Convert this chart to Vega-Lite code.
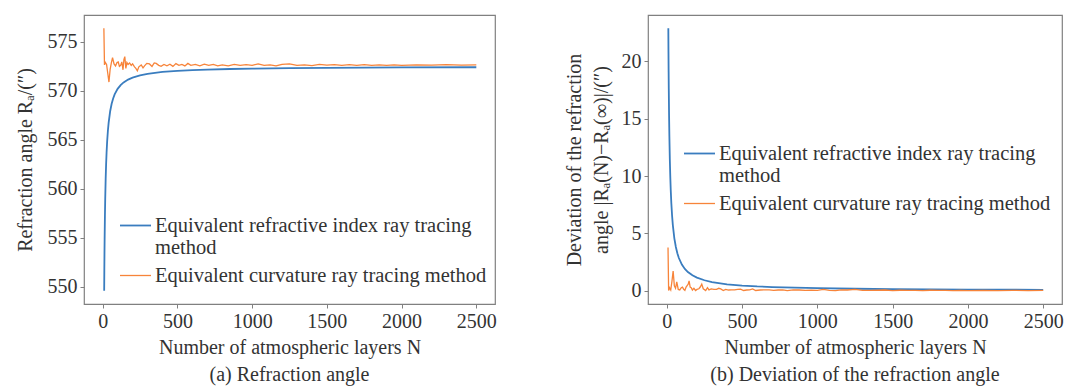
{
  "$schema": "https://vega.github.io/schema/vega-lite/v6.json",
  "background": "white",
  "padding": {"left": 14, "top": 14, "right": 5, "bottom": 0},
  "config": {
    "font": "Liberation Serif",
    "view": {"stroke": "#808080", "strokeWidth": 1.2},
    "axis": {"grid": false, "domain": false, "tickColor": "#808080", "tickSize": 4, "labelFont": "Liberation Serif", "labelFontSize": 20, "labelColor": "#333333", "titleFont": "Liberation Serif", "titleFontSize": 20, "titleFontWeight": "normal", "titleColor": "#333333", "labelPadding": 3, "format": "d"},
    "legend": {"labelFont": "Liberation Serif", "labelFontSize": 20.5, "labelColor": "#333333", "labelLimit": 600, "symbolType": "stroke", "symbolSize": 961, "symbolStrokeWidth": 1.6, "labelOffset": 3, "rowPadding": -2},
    "title": {"font": "Liberation Serif", "fontSize": 20, "fontWeight": "normal", "color": "#333333", "orient": "bottom", "anchor": "middle", "frame": "group"}
  },
  "datasets": {
    "d": [
      {"method": "Equivalent refractive index ray tracing method", "N": 10, "R": 549.60, "dev": 22.90},
      {"method": "Equivalent refractive index ray tracing method", "N": 11, "R": 551.68, "dev": 20.82},
      {"method": "Equivalent refractive index ray tracing method", "N": 12, "R": 553.42, "dev": 19.08},
      {"method": "Equivalent refractive index ray tracing method", "N": 13, "R": 554.88, "dev": 17.62},
      {"method": "Equivalent refractive index ray tracing method", "N": 15, "R": 557.23, "dev": 15.27},
      {"method": "Equivalent refractive index ray tracing method", "N": 17, "R": 559.03, "dev": 13.47},
      {"method": "Equivalent refractive index ray tracing method", "N": 20, "R": 561.05, "dev": 11.45},
      {"method": "Equivalent refractive index ray tracing method", "N": 23, "R": 562.54, "dev": 9.96},
      {"method": "Equivalent refractive index ray tracing method", "N": 26, "R": 563.69, "dev": 8.81},
      {"method": "Equivalent refractive index ray tracing method", "N": 30, "R": 564.87, "dev": 7.63},
      {"method": "Equivalent refractive index ray tracing method", "N": 35, "R": 565.96, "dev": 6.54},
      {"method": "Equivalent refractive index ray tracing method", "N": 40, "R": 566.77, "dev": 5.73},
      {"method": "Equivalent refractive index ray tracing method", "N": 50, "R": 567.92, "dev": 4.58},
      {"method": "Equivalent refractive index ray tracing method", "N": 60, "R": 568.68, "dev": 3.82},
      {"method": "Equivalent refractive index ray tracing method", "N": 70, "R": 569.23, "dev": 3.27},
      {"method": "Equivalent refractive index ray tracing method", "N": 80, "R": 569.64, "dev": 2.86},
      {"method": "Equivalent refractive index ray tracing method", "N": 100, "R": 570.21, "dev": 2.29},
      {"method": "Equivalent refractive index ray tracing method", "N": 120, "R": 570.59, "dev": 1.91},
      {"method": "Equivalent refractive index ray tracing method", "N": 140, "R": 570.86, "dev": 1.64},
      {"method": "Equivalent refractive index ray tracing method", "N": 170, "R": 571.15, "dev": 1.35},
      {"method": "Equivalent refractive index ray tracing method", "N": 200, "R": 571.35, "dev": 1.15},
      {"method": "Equivalent refractive index ray tracing method", "N": 250, "R": 571.58, "dev": 0.92},
      {"method": "Equivalent refractive index ray tracing method", "N": 300, "R": 571.74, "dev": 0.76},
      {"method": "Equivalent refractive index ray tracing method", "N": 400, "R": 571.93, "dev": 0.57},
      {"method": "Equivalent refractive index ray tracing method", "N": 500, "R": 572.04, "dev": 0.46},
      {"method": "Equivalent refractive index ray tracing method", "N": 600, "R": 572.12, "dev": 0.38},
      {"method": "Equivalent refractive index ray tracing method", "N": 700, "R": 572.17, "dev": 0.33},
      {"method": "Equivalent refractive index ray tracing method", "N": 850, "R": 572.23, "dev": 0.27},
      {"method": "Equivalent refractive index ray tracing method", "N": 1000, "R": 572.27, "dev": 0.23},
      {"method": "Equivalent refractive index ray tracing method", "N": 1250, "R": 572.32, "dev": 0.18},
      {"method": "Equivalent refractive index ray tracing method", "N": 1500, "R": 572.35, "dev": 0.15},
      {"method": "Equivalent refractive index ray tracing method", "N": 2000, "R": 572.39, "dev": 0.11},
      {"method": "Equivalent refractive index ray tracing method", "N": 2500, "R": 572.41, "dev": 0.09},
      {"method": "Equivalent curvature ray tracing method", "N": 8, "R": 576.40, "dev": 3.77},
      {"method": "Equivalent curvature ray tracing method", "N": 12, "R": 572.65, "dev": 0.02},
      {"method": "Equivalent curvature ray tracing method", "N": 18, "R": 572.90, "dev": 0.27},
      {"method": "Equivalent curvature ray tracing method", "N": 26, "R": 572.70, "dev": 0.07},
      {"method": "Equivalent curvature ray tracing method", "N": 34, "R": 571.80, "dev": 0.83},
      {"method": "Equivalent curvature ray tracing method", "N": 42, "R": 570.90, "dev": 1.73},
      {"method": "Equivalent curvature ray tracing method", "N": 50, "R": 572.20, "dev": 0.43},
      {"method": "Equivalent curvature ray tracing method", "N": 58, "R": 572.85, "dev": 0.22},
      {"method": "Equivalent curvature ray tracing method", "N": 66, "R": 573.40, "dev": 0.77},
      {"method": "Equivalent curvature ray tracing method", "N": 76, "R": 572.75, "dev": 0.12},
      {"method": "Equivalent curvature ray tracing method", "N": 86, "R": 572.55, "dev": 0.08},
      {"method": "Equivalent curvature ray tracing method", "N": 96, "R": 572.90, "dev": 0.27},
      {"method": "Equivalent curvature ray tracing method", "N": 104, "R": 572.95, "dev": 0.32},
      {"method": "Equivalent curvature ray tracing method", "N": 112, "R": 572.50, "dev": 0.13},
      {"method": "Equivalent curvature ray tracing method", "N": 120, "R": 572.60, "dev": 0.03},
      {"method": "Equivalent curvature ray tracing method", "N": 128, "R": 572.95, "dev": 0.32},
      {"method": "Equivalent curvature ray tracing method", "N": 136, "R": 572.15, "dev": 0.48},
      {"method": "Equivalent curvature ray tracing method", "N": 142, "R": 573.20, "dev": 0.57},
      {"method": "Equivalent curvature ray tracing method", "N": 148, "R": 573.50, "dev": 0.87},
      {"method": "Equivalent curvature ray tracing method", "N": 155, "R": 572.30, "dev": 0.33},
      {"method": "Equivalent curvature ray tracing method", "N": 162, "R": 572.90, "dev": 0.27},
      {"method": "Equivalent curvature ray tracing method", "N": 170, "R": 572.70, "dev": 0.07},
      {"method": "Equivalent curvature ray tracing method", "N": 180, "R": 572.85, "dev": 0.22},
      {"method": "Equivalent curvature ray tracing method", "N": 191, "R": 572.60, "dev": 0.03},
      {"method": "Equivalent curvature ray tracing method", "N": 200, "R": 572.75, "dev": 0.12},
      {"method": "Equivalent curvature ray tracing method", "N": 213, "R": 572.45, "dev": 0.18},
      {"method": "Equivalent curvature ray tracing method", "N": 222, "R": 572.30, "dev": 0.33},
      {"method": "Equivalent curvature ray tracing method", "N": 232, "R": 572.05, "dev": 0.58},
      {"method": "Equivalent curvature ray tracing method", "N": 242, "R": 572.45, "dev": 0.18},
      {"method": "Equivalent curvature ray tracing method", "N": 258, "R": 572.65, "dev": 0.02},
      {"method": "Equivalent curvature ray tracing method", "N": 270, "R": 572.35, "dev": 0.28},
      {"method": "Equivalent curvature ray tracing method", "N": 280, "R": 572.55, "dev": 0.08},
      {"method": "Equivalent curvature ray tracing method", "N": 295, "R": 572.80, "dev": 0.17},
      {"method": "Equivalent curvature ray tracing method", "N": 313, "R": 572.75, "dev": 0.12},
      {"method": "Equivalent curvature ray tracing method", "N": 330, "R": 572.50, "dev": 0.13},
      {"method": "Equivalent curvature ray tracing method", "N": 345, "R": 572.85, "dev": 0.22},
      {"method": "Equivalent curvature ray tracing method", "N": 358, "R": 572.80, "dev": 0.17},
      {"method": "Equivalent curvature ray tracing method", "N": 375, "R": 572.60, "dev": 0.03},
      {"method": "Equivalent curvature ray tracing method", "N": 391, "R": 572.50, "dev": 0.13},
      {"method": "Equivalent curvature ray tracing method", "N": 410, "R": 572.70, "dev": 0.07},
      {"method": "Equivalent curvature ray tracing method", "N": 430, "R": 572.55, "dev": 0.08},
      {"method": "Equivalent curvature ray tracing method", "N": 450, "R": 572.72, "dev": 0.09},
      {"method": "Equivalent curvature ray tracing method", "N": 470, "R": 572.50, "dev": 0.13},
      {"method": "Equivalent curvature ray tracing method", "N": 490, "R": 572.78, "dev": 0.15},
      {"method": "Equivalent curvature ray tracing method", "N": 510, "R": 572.60, "dev": 0.03},
      {"method": "Equivalent curvature ray tracing method", "N": 530, "R": 572.70, "dev": 0.07},
      {"method": "Equivalent curvature ray tracing method", "N": 550, "R": 572.55, "dev": 0.08},
      {"method": "Equivalent curvature ray tracing method", "N": 570, "R": 572.80, "dev": 0.17},
      {"method": "Equivalent curvature ray tracing method", "N": 590, "R": 572.60, "dev": 0.03},
      {"method": "Equivalent curvature ray tracing method", "N": 620, "R": 572.70, "dev": 0.07},
      {"method": "Equivalent curvature ray tracing method", "N": 650, "R": 572.55, "dev": 0.08},
      {"method": "Equivalent curvature ray tracing method", "N": 680, "R": 572.72, "dev": 0.09},
      {"method": "Equivalent curvature ray tracing method", "N": 710, "R": 572.60, "dev": 0.03},
      {"method": "Equivalent curvature ray tracing method", "N": 740, "R": 572.70, "dev": 0.07},
      {"method": "Equivalent curvature ray tracing method", "N": 770, "R": 572.55, "dev": 0.08},
      {"method": "Equivalent curvature ray tracing method", "N": 800, "R": 572.65, "dev": 0.02},
      {"method": "Equivalent curvature ray tracing method", "N": 840, "R": 572.55, "dev": 0.08},
      {"method": "Equivalent curvature ray tracing method", "N": 880, "R": 572.70, "dev": 0.07},
      {"method": "Equivalent curvature ray tracing method", "N": 920, "R": 572.60, "dev": 0.03},
      {"method": "Equivalent curvature ray tracing method", "N": 960, "R": 572.68, "dev": 0.05},
      {"method": "Equivalent curvature ray tracing method", "N": 1000, "R": 572.60, "dev": 0.03},
      {"method": "Equivalent curvature ray tracing method", "N": 1040, "R": 572.75, "dev": 0.12},
      {"method": "Equivalent curvature ray tracing method", "N": 1080, "R": 572.60, "dev": 0.03},
      {"method": "Equivalent curvature ray tracing method", "N": 1120, "R": 572.65, "dev": 0.02},
      {"method": "Equivalent curvature ray tracing method", "N": 1160, "R": 572.55, "dev": 0.08},
      {"method": "Equivalent curvature ray tracing method", "N": 1200, "R": 572.70, "dev": 0.07},
      {"method": "Equivalent curvature ray tracing method", "N": 1250, "R": 572.75, "dev": 0.12},
      {"method": "Equivalent curvature ray tracing method", "N": 1300, "R": 572.60, "dev": 0.03},
      {"method": "Equivalent curvature ray tracing method", "N": 1350, "R": 572.66, "dev": 0.03},
      {"method": "Equivalent curvature ray tracing method", "N": 1400, "R": 572.58, "dev": 0.05},
      {"method": "Equivalent curvature ray tracing method", "N": 1450, "R": 572.70, "dev": 0.07},
      {"method": "Equivalent curvature ray tracing method", "N": 1500, "R": 572.62, "dev": 0.01},
      {"method": "Equivalent curvature ray tracing method", "N": 1550, "R": 572.68, "dev": 0.05},
      {"method": "Equivalent curvature ray tracing method", "N": 1600, "R": 572.60, "dev": 0.03},
      {"method": "Equivalent curvature ray tracing method", "N": 1650, "R": 572.67, "dev": 0.04},
      {"method": "Equivalent curvature ray tracing method", "N": 1700, "R": 572.61, "dev": 0.02},
      {"method": "Equivalent curvature ray tracing method", "N": 1750, "R": 572.68, "dev": 0.05},
      {"method": "Equivalent curvature ray tracing method", "N": 1800, "R": 572.60, "dev": 0.03},
      {"method": "Equivalent curvature ray tracing method", "N": 1850, "R": 572.66, "dev": 0.03},
      {"method": "Equivalent curvature ray tracing method", "N": 1900, "R": 572.61, "dev": 0.02},
      {"method": "Equivalent curvature ray tracing method", "N": 1950, "R": 572.66, "dev": 0.03},
      {"method": "Equivalent curvature ray tracing method", "N": 2000, "R": 572.61, "dev": 0.02},
      {"method": "Equivalent curvature ray tracing method", "N": 2100, "R": 572.66, "dev": 0.03},
      {"method": "Equivalent curvature ray tracing method", "N": 2200, "R": 572.62, "dev": 0.01},
      {"method": "Equivalent curvature ray tracing method", "N": 2300, "R": 572.67, "dev": 0.04},
      {"method": "Equivalent curvature ray tracing method", "N": 2400, "R": 572.62, "dev": 0.01},
      {"method": "Equivalent curvature ray tracing method", "N": 2500, "R": 572.66, "dev": 0.03}
    ]
  },
  "resolve": {"scale": {"color": "independent", "strokeWidth": "independent"}, "legend": {"color": "independent"}},
  "spacing": 66,
  "hconcat": [
    {
      "width": 411,
      "height": 289,
      "data": {"name": "d"},
      "title": {"text": "(a) Refraction angle", "offset": 8, "font": "Liberation Serif"},
      "mark": {"type": "line", "clip": true},
      "encoding": {
        "x": {"field": "N", "type": "quantitative", "scale": {"domain": [-125, 2625], "nice": false, "zero": false}, "axis": {"values": [0, 500, 1000, 1500, 2000, 2500], "format": "d", "labelFont": "Liberation Serif", "labelFontSize": 20, "titleFont": "Liberation Serif", "titleFontSize": 20, "title": "Number of atmospheric layers N", "titlePadding": 6}},
        "y": {"field": "R", "type": "quantitative", "scale": {"domain": [548.26, 577.74], "nice": false, "zero": false}, "axis": {"values": [550, 555, 560, 565, 570, 575], "format": "d", "labelFont": "Liberation Serif", "labelFontSize": 20, "titleFont": "Liberation Serif", "titleFontSize": 20, "title": "Refraction angle Rₐ/(″)", "titlePadding": 12}},
        "color": {"field": "method", "type": "nominal", "sort": ["Equivalent refractive index ray tracing method", "Equivalent curvature ray tracing method"], "scale": {"domain": ["Equivalent refractive index ray tracing method", "Equivalent curvature ray tracing method"], "range": ["#3a7dbf", "#f7843a"]}, "legend": {"orient": "none", "legendX": 35, "legendY": 194, "title": null, "labelFont": "Liberation Serif", "labelFontSize": 20.5, "labelExpr": "datum.label == 'Equivalent refractive index ray tracing method' ? ['Equivalent refractive index ray tracing', 'method'] : datum.label"}},
        "strokeWidth": {"field": "method", "type": "nominal", "scale": {"domain": ["Equivalent refractive index ray tracing method", "Equivalent curvature ray tracing method"], "range": [1.8, 1.3]}, "legend": null}
      }
    },
    {
      "width": 414,
      "height": 289,
      "data": {"name": "d"},
      "title": {"text": "(b) Deviation of the refraction angle", "offset": 8, "font": "Liberation Serif"},
      "mark": {"type": "line", "clip": true},
      "encoding": {
        "x": {"field": "N", "type": "quantitative", "scale": {"domain": [-125, 2625], "nice": false, "zero": false}, "axis": {"values": [0, 500, 1000, 1500, 2000, 2500], "format": "d", "labelFont": "Liberation Serif", "labelFontSize": 20, "titleFont": "Liberation Serif", "titleFontSize": 20, "title": "Number of atmospheric layers N", "titlePadding": 6}},
        "y": {"field": "dev", "type": "quantitative", "scale": {"domain": [-1.15, 24.05], "nice": false, "zero": false}, "axis": {"values": [0, 5, 10, 15, 20], "format": "d", "labelFont": "Liberation Serif", "labelFontSize": 20, "titleFont": "Liberation Serif", "titleFontSize": 20, "title": ["Deviation of the refraction", "angle |Rₐ(N)−Rₐ(∞)|/(″)"], "titleLineHeight": 27, "titlePadding": 10}},
        "color": {"field": "method", "type": "nominal", "sort": ["Equivalent refractive index ray tracing method", "Equivalent curvature ray tracing method"], "scale": {"domain": ["Equivalent refractive index ray tracing method", "Equivalent curvature ray tracing method"], "range": ["#3a7dbf", "#f7843a"]}, "legend": {"orient": "none", "legendX": 35, "legendY": 122, "title": null, "labelFont": "Liberation Serif", "labelFontSize": 20.5, "labelExpr": "datum.label == 'Equivalent refractive index ray tracing method' ? ['Equivalent refractive index ray tracing', 'method'] : datum.label"}},
        "strokeWidth": {"field": "method", "type": "nominal", "scale": {"domain": ["Equivalent refractive index ray tracing method", "Equivalent curvature ray tracing method"], "range": [1.8, 1.3]}, "legend": null}
      }
    }
  ]
}
